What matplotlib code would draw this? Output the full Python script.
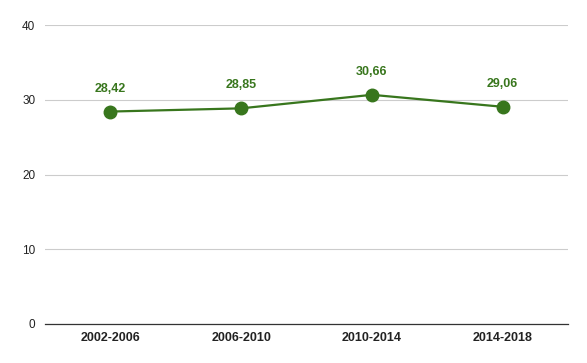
import matplotlib
matplotlib.use("Agg")
import matplotlib.pyplot as plt

categories = ["2002-2006", "2006-2010", "2010-2014", "2014-2018"]
values = [28.42, 28.85, 30.66, 29.06]
value_labels = ["28,42", "28,85", "30,66", "29,06"]
yticks = [0, 10, 20, 30, 40]

plt.rcParams['font.family'] = ['Liberation Sans', 'DejaVu Sans']
green = "#38761d"

fig = plt.figure(figsize=(5.87, 3.63), dpi=100)
ax = fig.add_axes([45/587, 1-324/363, 523/587, 299/363])
x = list(range(len(categories)))
ax.plot(x, values, color=green, linewidth=1.6, marker='o', markersize=9, zorder=3)
for xi, v, lab in zip(x, values, value_labels):
    ax.annotate(lab, (xi, v), xytext=(0, 16.5), textcoords='offset points',
                ha='center', va='center', color=green, fontsize=9, fontweight='bold',
                zorder=2,
                arrowprops=dict(arrowstyle='-', color='#dddddd', lw=0.8, shrinkA=6, shrinkB=4))
ax.set_xlim(-0.5, 3.5)
ax.set_ylim(0, 40)
ax.set_yticks(yticks)
ax.set_yticklabels([str(t) for t in yticks], fontsize=8.5, color='#222222')
ax.set_xticks(x)
ax.set_xticklabels(categories, fontsize=9, fontweight='bold', color='#222222')
ax.grid(axis='y', color='#cccccc', linewidth=0.8)
ax.set_axisbelow(True)
for s in ['top', 'right', 'left']:
    ax.spines[s].set_visible(False)
ax.spines['bottom'].set_color('#333333')
ax.spines['bottom'].set_linewidth(0.9)
ax.tick_params(axis='both', length=0)
ax.tick_params(axis='y', pad=7)
ax.tick_params(axis='x', pad=6)
fig.savefig("out.png", dpi=100)
